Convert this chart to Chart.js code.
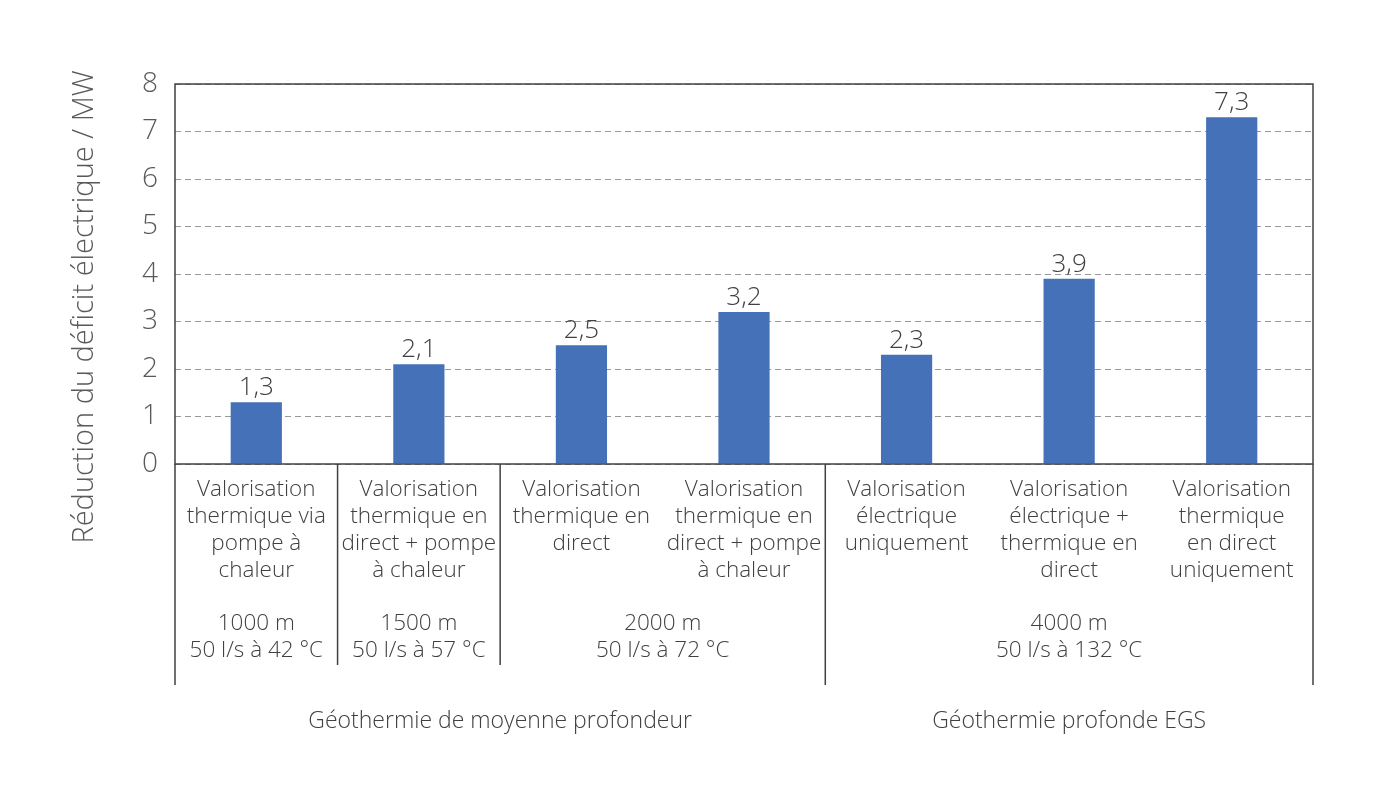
<!DOCTYPE html>
<html>
<head>
<meta charset="utf-8">
<script src="https://cdn.jsdelivr.net/npm/chart.js@4"></script>
<style>
  body { margin: 0; background: #fff; }
  #wrap { width: 1400px; height: 802px; }
</style>
</head>
<body>
<div id="wrap"><canvas id="geoChart"></canvas></div>
<script>
// Données
const categories = [
    ['Valorisation', 'thermique via', 'pompe à', 'chaleur'],
    ['Valorisation', 'thermique en', 'direct + pompe', 'à chaleur'],
    ['Valorisation', 'thermique en', 'direct'],
    ['Valorisation', 'thermique en', 'direct + pompe', 'à chaleur'],
    ['Valorisation', 'électrique', 'uniquement'],
    ['Valorisation', 'électrique +', 'thermique en', 'direct'],
    ['Valorisation', 'thermique', 'en direct', 'uniquement']
];
const values = [1.3, 2.1, 2.5, 3.2, 2.3, 3.9, 7.3];
const yTicks = [0, 1, 2, 3, 4, 5, 6, 7, 8];
const yTitle = 'Réduction du déficit électrique / MW';

// Groupes de profondeur (index première / dernière catégorie)
const depthGroups = [
    { from: 0, to: 0, lines: ['1000 m', '50 l/s à 42 °C'] },
    { from: 1, to: 1, lines: ['1500 m', '50 l/s à 57 °C'] },
    { from: 2, to: 3, lines: ['2000 m', '50 l/s à 72 °C'] },
    { from: 4, to: 6, lines: ['4000 m', '50 l/s à 132 °C'] }
];
const mainGroups = [
    { from: 0, to: 3, label: 'Géothermie de moyenne profondeur' },
    { from: 4, to: 6, label: 'Géothermie profonde EGS' }
];

const textColor = '#404040';
const axisColor = '#595959';
const fontFamily = '"Open Sans", sans-serif';

// Plugin : cadre, séparateurs, titre Y, étiquettes de groupes et valeurs
const decorPlugin = {
    id: 'decor',
    afterDraw(chart) {
        const c = chart.ctx;
        const area = chart.chartArea;
        const step = (area.right - area.left) / categories.length;
        const edge = i => area.left + i * step;

        c.save();
        c.strokeStyle = textColor;
        c.lineWidth = 1.5;
        c.strokeRect(area.left, area.top, area.right - area.left, area.bottom - area.top);

        // séparateurs verticaux
        const lineTo = (xp, yEnd) => {
            c.beginPath();
            c.moveTo(xp, area.bottom);
            c.lineTo(xp, yEnd);
            c.stroke();
        };
        lineTo(edge(0), area.bottom + 221);
        lineTo(edge(1), area.bottom + 201);
        lineTo(edge(2), area.bottom + 201);
        lineTo(edge(4), area.bottom + 221);
        lineTo(edge(7), area.bottom + 221);

        c.fillStyle = textColor;
        c.textAlign = 'center';
        c.textBaseline = 'middle';
        c.font = '300 22.5px ' + fontFamily;
        depthGroups.forEach(g => {
            const cx = (edge(g.from) + edge(g.to + 1)) / 2;
            g.lines.forEach((t, i) => c.fillText(t, cx, area.bottom + 160 + i * 27));
        });
        c.font = '300 23px ' + fontFamily;
        mainGroups.forEach(g => {
            const cx = (edge(g.from) + edge(g.to + 1)) / 2;
            c.fillText(g.label, cx, area.bottom + 257);
        });

        // titre de l'axe Y
        c.save();
        c.fillStyle = axisColor;
        c.font = '300 29px ' + fontFamily;
        c.translate(85, 307);
        c.rotate(-Math.PI / 2);
        c.fillText(yTitle, 0, 0);
        c.restore();

        // valeurs au-dessus des barres
        c.font = '300 26px ' + fontFamily;
        c.fillStyle = '#404040';
        c.textBaseline = 'alphabetic';
        chart.getDatasetMeta(0).data.forEach((bar, i) => {
            c.fillText(values[i].toFixed(1).replace('.', ','), bar.x, bar.y - 7);
        });
        c.restore();
    }
};

const ctx = document.getElementById('geoChart').getContext('2d');
new Chart(ctx, {
    type: 'bar',
    data: {
        labels: categories,
        datasets: [{
            data: values,
            backgroundColor: '#4571B8',
            barPercentage: 0.315,
            categoryPercentage: 1
        }]
    },
    options: {
        responsive: true,
        maintainAspectRatio: false,
        animation: false,
        layout: { padding: { left: 65, top: 84, right: 87, bottom: 0 } },
        plugins: {
            legend: { display: false },
            tooltip: { enabled: false }
        },
        scales: {
            x: {
                grid: { display: false, drawTicks: false },
                border: { display: false },
                ticks: {
                    color: textColor,
                    padding: 12,
                    maxRotation: 0,
                    autoSkip: false,
                    font: { family: fontFamily, size: 22.5, weight: '300', lineHeight: 1.2 }
                },
                afterFit: s => { s.height = 802 - 464; }
            },
            y: {
                min: 0,
                max: 8,
                afterBuildTicks: s => { s.ticks = yTicks.map(v => ({ value: v })); },
                grid: {
                    color: '#999999',
                    lineWidth: 1,
                    drawTicks: false
                },
                border: { display: false, dash: [6, 4] },
                ticks: {
                    color: axisColor,
                    padding: 17,
                    font: { family: fontFamily, size: 28, weight: '300' }
                },
                afterFit: s => { s.width = 110; }
            }
        }
    },
    plugins: [decorPlugin]
});
</script>
</body>
</html>
